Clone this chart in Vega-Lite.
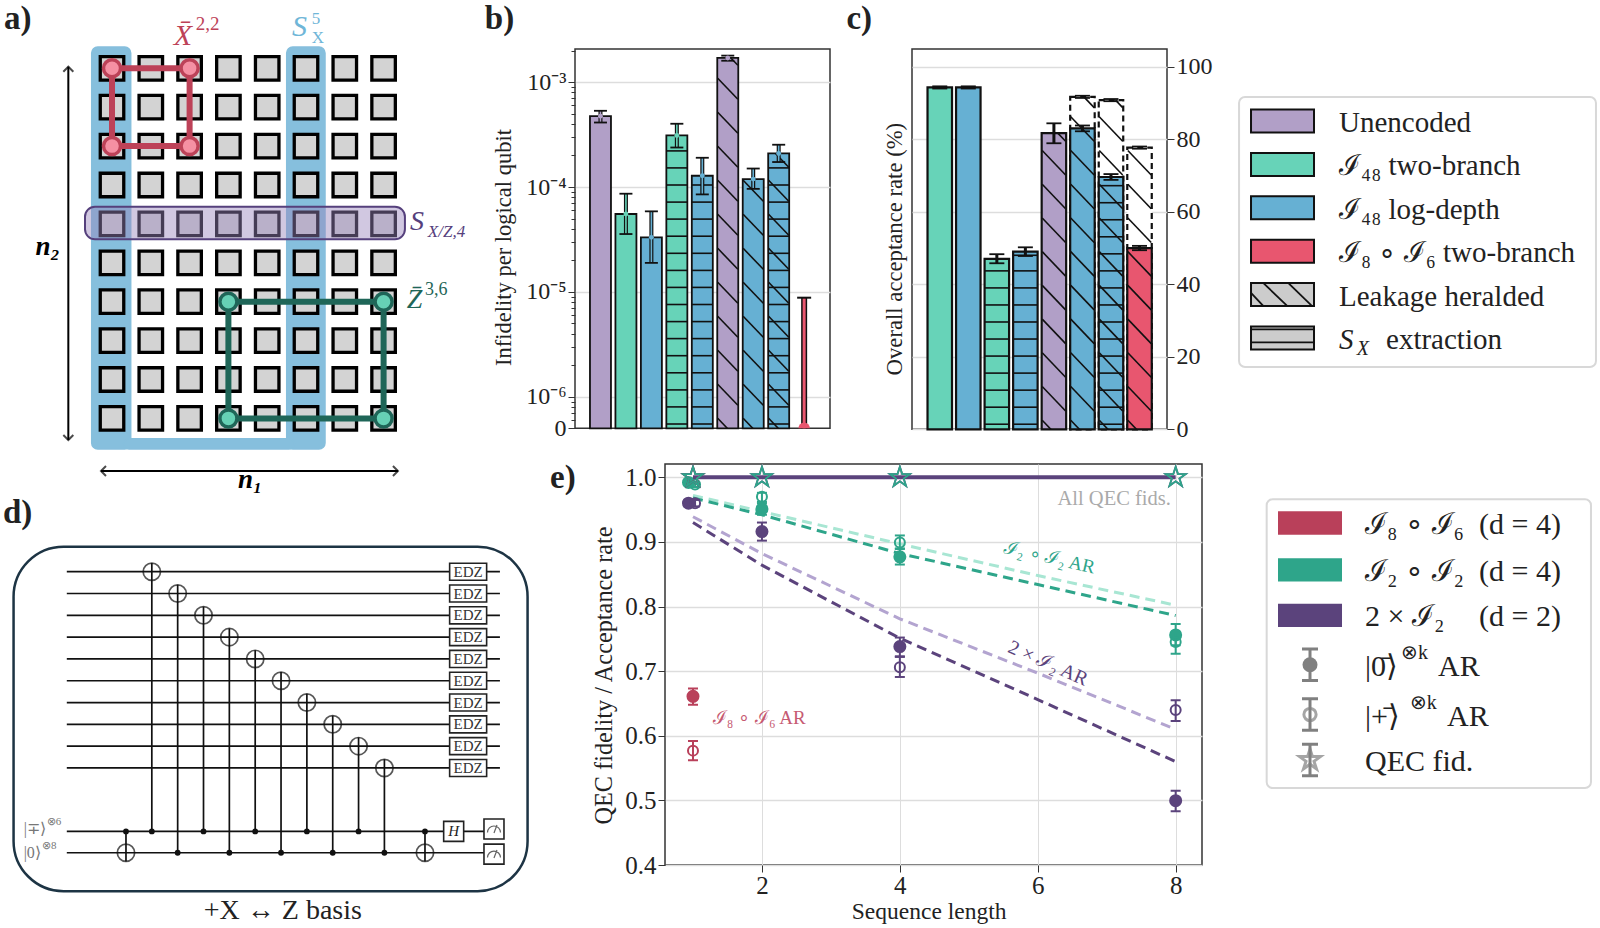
{"$schema":"https://vega.github.io/schema/vega-lite/v6.json","padding":0,"background":"white","bounds":"flush","spacing":0,
"config":{"view":{"stroke":null},"text":{"font":"Liberation Serif","color":"#222"},"axis":{"labelFont":"Liberation Serif","titleFont":"Liberation Serif","labelFontSize":24,"titleFontSize":22.5,"titleFontWeight":"normal","labelColor":"#222","titleColor":"#222","tickColor":"#333","gridColor":"#dddddd","gridWidth":1.5,"domain":false,"labelOverlap":false,"labelBound":false,"labelFlush":false}},
"datasets":{
"cells":[{"x":0,"y":0},{"x":1,"y":0},{"x":2,"y":0},{"x":3,"y":0},{"x":4,"y":0},{"x":5,"y":0},{"x":6,"y":0},{"x":7,"y":0},{"x":0,"y":1},{"x":1,"y":1},{"x":2,"y":1},{"x":3,"y":1},{"x":4,"y":1},{"x":5,"y":1},{"x":6,"y":1},{"x":7,"y":1},{"x":0,"y":2},{"x":1,"y":2},{"x":2,"y":2},{"x":3,"y":2},{"x":4,"y":2},{"x":5,"y":2},{"x":6,"y":2},{"x":7,"y":2},{"x":0,"y":3},{"x":1,"y":3},{"x":2,"y":3},{"x":3,"y":3},{"x":4,"y":3},{"x":5,"y":3},{"x":6,"y":3},{"x":7,"y":3},{"x":0,"y":4},{"x":1,"y":4},{"x":2,"y":4},{"x":3,"y":4},{"x":4,"y":4},{"x":5,"y":4},{"x":6,"y":4},{"x":7,"y":4},{"x":0,"y":5},{"x":1,"y":5},{"x":2,"y":5},{"x":3,"y":5},{"x":4,"y":5},{"x":5,"y":5},{"x":6,"y":5},{"x":7,"y":5},{"x":0,"y":6},{"x":1,"y":6},{"x":2,"y":6},{"x":3,"y":6},{"x":4,"y":6},{"x":5,"y":6},{"x":6,"y":6},{"x":7,"y":6},{"x":0,"y":7},{"x":1,"y":7},{"x":2,"y":7},{"x":3,"y":7},{"x":4,"y":7},{"x":5,"y":7},{"x":6,"y":7},{"x":7,"y":7},{"x":0,"y":8},{"x":1,"y":8},{"x":2,"y":8},{"x":3,"y":8},{"x":4,"y":8},{"x":5,"y":8},{"x":6,"y":8},{"x":7,"y":8},{"x":0,"y":9},{"x":1,"y":9},{"x":2,"y":9},{"x":3,"y":9},{"x":4,"y":9},{"x":5,"y":9},{"x":6,"y":9},{"x":7,"y":9}],
"bBars":[{"x":0,"v":4.74e-4,"f":"Unencoded"},{"x":1,"v":5.53e-5,"f":"Two"},{"x":2,"v":3.31e-5,"f":"Log"},{"x":3,"v":3.1e-4,"f":"Two"},{"x":4,"v":1.28e-4,"f":"Log"},{"x":5,"v":1.7e-3,"f":"Unencoded"},{"x":6,"v":1.19e-4,"f":"Log"},{"x":7,"v":2.09e-4,"f":"Log"}],
"bErr":[{"x":0,"v":4.74e-4,"lo":4.12e-4,"hi":5.33e-4,"f":"Unencoded"},{"x":1,"v":5.53e-5,"lo":3.56e-5,"hi":8.63e-5,"f":"Two"},{"x":2,"v":3.31e-5,"lo":1.89e-5,"hi":5.86e-5,"f":"Log"},{"x":3,"v":3.1e-4,"lo":2.38e-4,"hi":4.01e-4,"f":"Two"},{"x":4,"v":1.28e-4,"lo":8.5e-5,"hi":1.9e-4,"f":"Log"},{"x":5,"v":1.7e-3,"lo":1.6e-3,"hi":1.79e-3,"f":"Unencoded"},{"x":6,"v":1.19e-4,"lo":9.6e-5,"hi":1.5e-4,"f":"Log"},{"x":7,"v":2.09e-4,"lo":1.73e-4,"hi":2.53e-4,"f":"Log"}],
"bH":[{"x":3,"h":4.3},{"x":3,"h":21.4},{"x":3,"h":38.4},{"x":3,"h":55.5},{"x":3,"h":72.6},{"x":3,"h":89.7},{"x":3,"h":106.7},{"x":3,"h":123.8},{"x":3,"h":140.9},{"x":3,"h":157.9},{"x":3,"h":175},{"x":3,"h":192.1},{"x":3,"h":209.2},{"x":3,"h":226.2},{"x":3,"h":243.3},{"x":3,"h":260.4},{"x":3,"h":277.4},{"x":4,"h":4.3},{"x":4,"h":21.4},{"x":4,"h":38.4},{"x":4,"h":55.5},{"x":4,"h":72.6},{"x":4,"h":89.7},{"x":4,"h":106.7},{"x":4,"h":123.8},{"x":4,"h":140.9},{"x":4,"h":157.9},{"x":4,"h":175},{"x":4,"h":192.1},{"x":4,"h":209.2},{"x":4,"h":226.2},{"x":4,"h":243.3},{"x":7,"h":4.3},{"x":7,"h":21.4},{"x":7,"h":38.4},{"x":7,"h":55.5},{"x":7,"h":72.6},{"x":7,"h":89.7},{"x":7,"h":106.7},{"x":7,"h":123.8},{"x":7,"h":140.9},{"x":7,"h":157.9},{"x":7,"h":175},{"x":7,"h":192.1},{"x":7,"h":209.2},{"x":7,"h":226.2},{"x":7,"h":243.3},{"x":7,"h":260.4}],
"bD":[{"x":4.604,"x2":5.396,"h":10,"h2":-11},{"x":4.604,"x2":5.396,"h":44,"h2":23},{"x":4.604,"x2":5.396,"h":78,"h2":57},{"x":4.604,"x2":5.396,"h":112,"h2":91},{"x":4.604,"x2":5.396,"h":146,"h2":125},{"x":4.604,"x2":5.396,"h":180,"h2":159},{"x":4.604,"x2":5.396,"h":214,"h2":193},{"x":4.604,"x2":5.396,"h":248,"h2":227},{"x":4.604,"x2":5.396,"h":282,"h2":261},{"x":4.604,"x2":5.396,"h":316,"h2":295},{"x":4.604,"x2":5.396,"h":350,"h2":329},{"x":5.12,"x2":5.396,"h":370.3,"h2":363},{"x":5.604,"x2":6.396,"h":10,"h2":-11},{"x":5.604,"x2":6.396,"h":44,"h2":23},{"x":5.604,"x2":6.396,"h":78,"h2":57},{"x":5.604,"x2":6.396,"h":112,"h2":91},{"x":5.604,"x2":6.396,"h":146,"h2":125},{"x":5.604,"x2":6.396,"h":180,"h2":159},{"x":5.604,"x2":6.396,"h":214,"h2":193},{"x":5.604,"x2":6.396,"h":248,"h2":227},{"x":6.604,"x2":7.396,"h":10,"h2":-11},{"x":6.604,"x2":7.396,"h":44,"h2":23},{"x":6.604,"x2":7.396,"h":78,"h2":57},{"x":6.604,"x2":7.396,"h":112,"h2":91},{"x":6.604,"x2":7.396,"h":146,"h2":125},{"x":6.604,"x2":7.396,"h":180,"h2":159},{"x":6.604,"x2":7.396,"h":214,"h2":193},{"x":6.604,"x2":7.396,"h":248,"h2":227},{"x":6.883,"x2":7.396,"h":274.6,"h2":261}],
"cBars":[{"x":0,"v":94.3,"f":"Two"},{"x":1,"v":94.3,"f":"Log"},{"x":2,"v":47,"f":"Two"},{"x":3,"v":49,"f":"Log"},{"x":4,"v":81.7,"f":"Unencoded"},{"x":5,"v":83,"f":"Log"},{"x":6,"v":69.6,"f":"Log"},{"x":7,"v":50,"f":"Red"}],
"cTop":[{"x":5,"v":91.7},{"x":6,"v":90.8},{"x":7,"v":77.7}],
"cErr":[{"x":0,"lo":94,"hi":94.6},{"x":1,"lo":94,"hi":94.6},{"x":2,"lo":45.8,"hi":48.3},{"x":3,"lo":47.8,"hi":50.2},{"x":4,"lo":78.9,"hi":84.4},{"x":5,"lo":82.2,"hi":83.8},{"x":6,"lo":68.8,"hi":70.4},{"x":7,"lo":49.4,"hi":50.6},{"x":5,"lo":91.4,"hi":92},{"x":6,"lo":90.5,"hi":91.1},{"x":7,"lo":77.4,"hi":78}],
"cH":[{"x":2,"y":1.4},{"x":2,"y":6.1},{"x":2,"y":10.8},{"x":2,"y":15.5},{"x":2,"y":20.2},{"x":2,"y":24.9},{"x":2,"y":29.6},{"x":2,"y":34.3},{"x":2,"y":39},{"x":2,"y":43.7},{"x":3,"y":1.4},{"x":3,"y":6.1},{"x":3,"y":10.8},{"x":3,"y":15.5},{"x":3,"y":20.2},{"x":3,"y":24.9},{"x":3,"y":29.6},{"x":3,"y":34.3},{"x":3,"y":39},{"x":3,"y":43.7},{"x":3,"y":48.0},{"x":6,"y":1.4},{"x":6,"y":6.1},{"x":6,"y":10.8},{"x":6,"y":15.5},{"x":6,"y":20.2},{"x":6,"y":24.9},{"x":6,"y":29.6},{"x":6,"y":34.3},{"x":6,"y":39},{"x":6,"y":43.7},{"x":6,"y":48.4},{"x":6,"y":53.1},{"x":6,"y":57.8},{"x":6,"y":62.5},{"x":6,"y":67.2}],
"cD":[{"x":3.59,"x2":4.41,"y":2.5,"y2":-4.26},{"x":3.59,"x2":4.41,"y":11.8,"y2":5.04},{"x":3.59,"x2":4.41,"y":21.1,"y2":14.34},{"x":3.59,"x2":4.41,"y":30.4,"y2":23.64},{"x":3.59,"x2":4.41,"y":39.7,"y2":32.94},{"x":3.59,"x2":4.41,"y":49,"y2":42.24},{"x":3.59,"x2":4.41,"y":58.3,"y2":51.54},{"x":3.59,"x2":4.41,"y":67.6,"y2":60.84},{"x":3.59,"x2":4.41,"y":76.9,"y2":70.14},{"x":4.136,"x2":4.41,"y":81.7,"y2":79.44},{"x":4.59,"x2":5.41,"y":2.5,"y2":-4.26},{"x":4.59,"x2":5.41,"y":11.8,"y2":5.04},{"x":4.59,"x2":5.41,"y":21.1,"y2":14.34},{"x":4.59,"x2":5.41,"y":30.4,"y2":23.64},{"x":4.59,"x2":5.41,"y":39.7,"y2":32.94},{"x":4.59,"x2":5.41,"y":49,"y2":42.24},{"x":4.59,"x2":5.41,"y":58.3,"y2":51.54},{"x":4.59,"x2":5.41,"y":67.6,"y2":60.84},{"x":4.59,"x2":5.41,"y":76.9,"y2":70.14},{"x":4.59,"x2":5.41,"y":86.2,"y2":79.44},{"x":5.051,"x2":5.41,"y":91.7,"y2":88.74},{"x":5.59,"x2":6.41,"y":2.5,"y2":-4.26},{"x":5.59,"x2":6.41,"y":11.8,"y2":5.04},{"x":5.59,"x2":6.41,"y":21.1,"y2":14.34},{"x":5.59,"x2":6.41,"y":30.4,"y2":23.64},{"x":5.59,"x2":6.41,"y":39.7,"y2":32.94},{"x":5.59,"x2":6.41,"y":49,"y2":42.24},{"x":5.59,"x2":6.41,"y":58.3,"y2":51.54},{"x":5.59,"x2":6.41,"y":67.6,"y2":60.84},{"x":5.59,"x2":6.41,"y":76.9,"y2":70.14},{"x":5.59,"x2":6.41,"y":86.2,"y2":79.44},{"x":6.16,"x2":6.41,"y":90.8,"y2":88.74},{"x":6.59,"x2":7.41,"y":2.5,"y2":-4.26},{"x":6.59,"x2":7.41,"y":11.8,"y2":5.04},{"x":6.59,"x2":7.41,"y":21.1,"y2":14.34},{"x":6.59,"x2":7.41,"y":30.4,"y2":23.64},{"x":6.59,"x2":7.41,"y":39.7,"y2":32.94},{"x":6.59,"x2":7.41,"y":49,"y2":42.24},{"x":6.59,"x2":7.41,"y":58.3,"y2":51.54},{"x":6.59,"x2":7.41,"y":67.6,"y2":60.84},{"x":6.59,"x2":7.41,"y":76.9,"y2":70.14}],
"eFilled":[{"x":1,"y":0.661,"lo":0.648,"hi":0.673,"c":"I8"},{"x":0.935,"y":0.992,"lo":0.988,"hi":0.996,"c":"I2"},{"x":2,"y":0.951,"lo":0.942,"hi":0.96,"c":"I2"},{"x":4,"y":0.877,"lo":0.865,"hi":0.889,"c":"I2"},{"x":8,"y":0.756,"lo":0.74,"hi":0.773,"c":"I2"},{"x":0.935,"y":0.96,"lo":0.955,"hi":0.965,"c":"P"},{"x":2,"y":0.916,"lo":0.902,"hi":0.93,"c":"P"},{"x":4,"y":0.738,"lo":0.723,"hi":0.752,"c":"P"},{"x":8,"y":0.4995,"lo":0.483,"hi":0.515,"c":"P"}],
"eOpen":[{"x":1,"y":0.577,"lo":0.562,"hi":0.592,"c":"I8"},{"x":1.03,"y":0.989,"lo":0.985,"hi":0.993,"c":"I2"},{"x":2,"y":0.97,"lo":0.962,"hi":0.976,"c":"I2"},{"x":4,"y":0.899,"lo":0.89,"hi":0.91,"c":"I2"},{"x":8,"y":0.745,"lo":0.727,"hi":0.76,"c":"I2"},{"x":1.03,"y":0.96,"lo":0.955,"hi":0.965,"c":"P"},{"x":4,"y":0.706,"lo":0.691,"hi":0.722,"c":"P"},{"x":8,"y":0.64,"lo":0.623,"hi":0.655,"c":"P"}],
"eStars":[{"x":1,"y":1,"c":"I8"},{"x":1,"y":1,"c":"P"},{"x":2,"y":1,"c":"P"},{"x":4,"y":1,"c":"P"},{"x":8,"y":1,"c":"P"},{"x":1,"y":1,"c":"I2"},{"x":2,"y":1,"c":"I2"},{"x":4,"y":1,"c":"I2"},{"x":8,"y":1,"c":"I2"}],
"eLines":[{"x":1,"y":0.972,"c":"I2 light"},{"x":2,"y":0.947,"c":"I2 light"},{"x":4,"y":0.897,"c":"I2 light"},{"x":6,"y":0.848,"c":"I2 light"},{"x":8,"y":0.802,"c":"I2 light"},{"x":1,"y":0.968,"c":"I2"},{"x":2,"y":0.942,"c":"I2"},{"x":4,"y":0.882,"c":"I2"},{"x":6,"y":0.834,"c":"I2"},{"x":8,"y":0.786,"c":"I2"},{"x":1,"y":0.939,"c":"P light"},{"x":2,"y":0.882,"c":"P light"},{"x":4,"y":0.781,"c":"P light"},{"x":6,"y":0.697,"c":"P light"},{"x":8,"y":0.61,"c":"P light"},{"x":1,"y":0.93,"c":"P"},{"x":2,"y":0.864,"c":"P"},{"x":4,"y":0.751,"c":"P"},{"x":6,"y":0.656,"c":"P"},{"x":8,"y":0.56,"c":"P"}],
"dTargets":[{"x":1,"y":0,"c":11.91},{"x":2,"y":1,"c":12.89},{"x":3,"y":2,"c":11.91},{"x":4,"y":3,"c":12.89},{"x":5,"y":4,"c":11.91},{"x":6,"y":5,"c":12.89},{"x":7,"y":6,"c":11.91},{"x":8,"y":7,"c":12.89},{"x":9,"y":8,"c":11.91},{"x":10,"y":9,"c":12.89},{"x":0,"y":12.89,"c":11.91},{"x":11.57,"y":12.89,"c":11.91}],
"dEdz":[{"x":13.24,"y":0,"t":"EDZ"},{"x":13.24,"y":1,"t":"EDZ"},{"x":13.24,"y":2,"t":"EDZ"},{"x":13.24,"y":3,"t":"EDZ"},{"x":13.24,"y":4,"t":"EDZ"},{"x":13.24,"y":5,"t":"EDZ"},{"x":13.24,"y":6,"t":"EDZ"},{"x":13.24,"y":7,"t":"EDZ"},{"x":13.24,"y":8,"t":"EDZ"},{"x":13.24,"y":9,"t":"EDZ"}]
},
"vconcat":[
{"width":1600,"height":49,"data":{"values":[{"x":0.0025,"y":0.6,"t":"a)"},{"x":0.303,"y":0.6,"t":"b)"},{"x":0.529,"y":0.6,"t":"c)"}]},"mark":{"type":"text","align":"left","baseline":"alphabetic","fontSize":33,"fontWeight":"bold"},"encoding":{"x":{"field":"x","type":"quantitative","scale":{"domain":[0,1]},"axis":null},"y":{"field":"y","type":"quantitative","scale":{"domain":[1,0]},"axis":null},"text":{"field":"t"}}},
{"bounds":"flush","spacing":415,"vconcat":[
{"hconcat":[
{"width":493,"height":415,
"encoding":{"x":{"field":"x","type":"quantitative","scale":{"domain":[-2.887,9.82],"nice":false,"zero":false},"axis":null},"y":{"field":"y","type":"quantitative","scale":{"domain":[10.172,-0.496],"nice":false,"zero":false},"axis":null}},
"layer":[
{"data":{"values":[{"x":-0.523,"x2":0.482,"y":-0.548,"y2":9.787},{"x":4.503,"x2":5.49,"y":-0.548,"y2":9.787},{"x":0.3,"x2":4.7,"y":9.52,"y2":9.787}]},"mark":{"type":"rect","fill":"#86bfdd","stroke":"#86bfdd","strokeWidth":1.5,"cornerRadius":6},"encoding":{"x2":{"field":"x2"},"y2":{"field":"y2"}}},
{"data":{"name":"cells"},"mark":{"type":"point","shape":"square","filled":true,"fill":"#d3d3d3","fillOpacity":1,"stroke":"black","strokeOpacity":1,"strokeWidth":3.3,"size":552}},
{"data":{"values":[{"x":-0.696,"x2":7.55,"y":3.558,"y2":4.396}]},"mark":{"type":"rect","fill":"#9a85bd","fillOpacity":0.45,"stroke":"#55407c","strokeWidth":2,"cornerRadius":10},"encoding":{"x2":{"field":"x2"},"y2":{"field":"y2"}}},
{"data":{"values":[{"x":0,"y":0,"k":0},{"x":2,"y":0,"k":1},{"x":2,"y":2,"k":2},{"x":0,"y":2,"k":3},{"x":0,"y":0,"k":4}]},"mark":{"type":"line","color":"#bd4258","strokeWidth":6},"encoding":{"order":{"field":"k"}}},
{"data":{"values":[{"x":0,"y":0},{"x":2,"y":0},{"x":2,"y":2},{"x":0,"y":2}]},"mark":{"type":"point","shape":"circle","filled":true,"fill":"#f590a3","fillOpacity":1,"stroke":"#bd4258","strokeOpacity":1,"strokeWidth":3.5,"size":290}},
{"data":{"values":[{"x":3,"y":6,"k":0},{"x":7,"y":6,"k":1},{"x":7,"y":9,"k":2},{"x":3,"y":9,"k":3},{"x":3,"y":6,"k":4}]},"mark":{"type":"line","color":"#1f6658","strokeWidth":6},"encoding":{"order":{"field":"k"}}},
{"data":{"values":[{"x":3,"y":6},{"x":7,"y":6},{"x":7,"y":9},{"x":3,"y":9}]},"mark":{"type":"point","shape":"circle","filled":true,"fill":"#66d1b5","fillOpacity":1,"stroke":"#1f6658","strokeOpacity":1,"strokeWidth":3.5,"size":290}},
{"data":{"values":[{"x":-1.126,"y":-0.04,"y2":9.555}]},"mark":{"type":"rule","color":"black","strokeWidth":2},"encoding":{"y2":{"field":"y2"}}},
{"data":{"values":[{"x":-0.284,"x2":7.37,"y":10.35}]},"mark":{"type":"rule","color":"black","strokeWidth":2},"encoding":{"x2":{"field":"x2"}}},
{"data":{"values":[{"x":-1.126,"y":-0.04,"d":"up"},{"x":-1.126,"y":9.555,"d":"down"},{"x":-0.284,"y":10.35,"d":"left"},{"x":7.37,"y":10.35,"d":"right"}]},"mark":{"type":"point","filled":false,"stroke":"black","strokeOpacity":1,"strokeWidth":2,"size":100},"encoding":{"shape":{"field":"d","type":"nominal","legend":null,"scale":{"domain":["up","down","left","right"],"range":["M-1,1L0,0L1,1","M-1,-1L0,0L1,-1","M1,-1L0,0L1,1","M-1,-1L0,0L-1,1"]}}}},
{"data":{"values":[{"x":1.83,"y":-0.6,"t":"X̄"}]},"mark":{"type":"text","fontSize":30,"fontStyle":"italic","baseline":"alphabetic","color":"#bd4258"},"encoding":{"text":{"field":"t"}}},
{"data":{"values":[{"x":2.16,"y":-0.985,"t":"2,2"}]},"mark":{"type":"text","fontSize":19,"align":"left","baseline":"alphabetic","color":"#bd4258"},"encoding":{"text":{"field":"t"}}},
{"data":{"values":[{"x":4.64,"y":-0.83,"t":"S"}]},"mark":{"type":"text","fontSize":30,"fontStyle":"italic","align":"left","baseline":"alphabetic","color":"#6fb6d8"},"encoding":{"text":{"field":"t"}}},
{"data":{"values":[{"x":5.15,"y":-1.15,"t":"5"},{"x":5.15,"y":-0.64,"t":"X"}]},"mark":{"type":"text","fontSize":17,"align":"left","baseline":"alphabetic","color":"#6fb6d8"},"encoding":{"text":{"field":"t"}}},
{"data":{"values":[{"x":7.68,"y":4.16,"t":"S"}]},"mark":{"type":"text","fontSize":28,"fontStyle":"italic","align":"left","baseline":"alphabetic","color":"#55407c"},"encoding":{"text":{"field":"t"}}},
{"data":{"values":[{"x":8.14,"y":4.34,"t":"X/Z,4"}]},"mark":{"type":"text","fontSize":17,"fontStyle":"italic","align":"left","baseline":"alphabetic","color":"#55407c"},"encoding":{"text":{"field":"t"}}},
{"data":{"values":[{"x":7.6,"y":6.16,"t":"Z̄"}]},"mark":{"type":"text","fontSize":28,"fontStyle":"italic","align":"left","baseline":"alphabetic","color":"#1f6658"},"encoding":{"text":{"field":"t"}}},
{"data":{"values":[{"x":8.07,"y":5.83,"t":"3,6"}]},"mark":{"type":"text","fontSize":18,"align":"left","baseline":"alphabetic","color":"#1f6658"},"encoding":{"text":{"field":"t"}}},
{"data":{"values":[{"x":-1.66,"y":4.8,"t":"n₂"},{"x":3.56,"y":10.79,"t":"n₁"}]},"mark":{"type":"text","fontSize":27,"fontStyle":"italic","fontWeight":"bold","baseline":"alphabetic","color":"black"},"encoding":{"text":{"field":"t"}}}
]},
{"width":255,"height":379.3,"view":{"stroke":"#333","strokeWidth":1.5},"resolve":{"scale":{"y":"independent"}},
"encoding":{"x":{"field":"x","type":"quantitative","scale":{"domain":[-0.804,8.819],"nice":false,"zero":false},"axis":null}},
"layer":[
{"data":{"name":"bBars"},"mark":{"type":"bar","size":21,"stroke":"#111","strokeWidth":1.8},"encoding":{"y":{"field":"v","type":"quantitative","scale":{"type":"log","domain":[5e-7,2.07e-3],"nice":false},"axis":{"title":"Infidelity per logical qubit","titleX":-60,"titleY":198,"grid":true,"gridOpacity":{"condition":{"test":"datum.value==1e-3||datum.value==1e-4||datum.value==1e-5||datum.value==1e-6","value":1},"value":0},"tickSize":{"condition":{"test":"datum.value==1e-3||datum.value==1e-4||datum.value==1e-5||datum.value==1e-6||datum.value==5e-7","value":7},"value":4},"values":[5e-7,6e-7,7e-7,8e-7,9e-7,1e-6,2e-6,3e-6,4e-6,5e-6,6e-6,7e-6,8e-6,9e-6,1e-5,2e-5,3e-5,4e-5,5e-5,6e-5,7e-5,8e-5,9e-5,1e-4,2e-4,3e-4,4e-4,5e-4,6e-4,7e-4,8e-4,9e-4,1e-3,2e-3],"labelExpr":"datum.value==5e-7?'0':datum.value==1e-6?'10⁻⁶':datum.value==1e-5?'10⁻⁵':datum.value==1e-4?'10⁻⁴':datum.value==1e-3?'10⁻³':''"}},"y2":{"datum":5e-7},"color":{"field":"f","type":"nominal","legend":null,"scale":{"domain":["Unencoded","Two","Log","Red","Hatch","I8","I2","P","I2 light","P light"],"range":["#b19fc7","#67d3b8","#66b0d3","#e8566f","#cccccc","#b9405a","#2ea58a","#5b437c","#a8e6d3","#b3a4d0"]}}}},
{"data":{"name":"bH"},"mark":{"type":"tick","orient":"horizontal","size":21,"thickness":1.6,"color":"#111","opacity":1},"encoding":{"y":{"field":"h","type":"quantitative","scale":{"domain":[0,379.3],"nice":false},"axis":null}}},
{"data":{"name":"bD"},"mark":{"type":"rule","color":"#111","strokeWidth":1.6,"clip":true},"encoding":{"x2":{"field":"x2"},"y":{"field":"h","type":"quantitative","scale":{"domain":[0,379.3],"nice":false},"axis":null},"y2":{"field":"h2"}}},
{"data":{"name":"bErr"},"mark":{"type":"rule","color":"#111","strokeWidth":4},"encoding":{"y":{"field":"lo","type":"quantitative","scale":{"type":"log","domain":[5e-7,2.07e-3],"nice":false},"axis":null},"y2":{"field":"hi"}}},
{"data":{"name":"bErr"},"mark":{"type":"rule","strokeWidth":1.6},"encoding":{"y":{"field":"lo","type":"quantitative","scale":{"type":"log","domain":[5e-7,2.07e-3],"nice":false},"axis":null},"y2":{"field":"hi"},"color":{"field":"f","type":"nominal","legend":null}}},
{"data":{"name":"bErr"},"mark":{"type":"tick","orient":"horizontal","size":13,"thickness":1.8,"color":"#111","opacity":1},"encoding":{"y":{"field":"hi","type":"quantitative","scale":{"type":"log","domain":[5e-7,2.07e-3],"nice":false},"axis":null}}},
{"data":{"name":"bErr"},"mark":{"type":"tick","orient":"horizontal","size":13,"thickness":1.8,"color":"#111","opacity":1},"encoding":{"y":{"field":"lo","type":"quantitative","scale":{"type":"log","domain":[5e-7,2.07e-3],"nice":false},"axis":null}}},
{"data":{"name":"bErr"},"mark":{"type":"point","filled":true,"size":24,"opacity":1},"encoding":{"y":{"field":"v","type":"quantitative","scale":{"type":"log","domain":[5e-7,2.07e-3],"nice":false},"axis":null},"color":{"field":"f","type":"nominal","legend":null}}},
{"data":{"values":[{"x":8,"lo":5e-7,"hi":8.8e-6}]},"mark":{"type":"rule","color":"#111","strokeWidth":6},"encoding":{"y":{"field":"lo","type":"quantitative","scale":{"type":"log","domain":[5e-7,2.07e-3],"nice":false},"axis":null},"y2":{"field":"hi"}}},
{"data":{"values":[{"x":8,"lo":5e-7,"hi":8.8e-6}]},"mark":{"type":"rule","color":"#e8566f","strokeWidth":3},"encoding":{"y":{"field":"lo","type":"quantitative","scale":{"type":"log","domain":[5e-7,2.07e-3],"nice":false},"axis":null},"y2":{"field":"hi"}}},
{"data":{"values":[{"x":8,"hi":8.8e-6}]},"mark":{"type":"tick","orient":"horizontal","size":14,"thickness":2,"color":"#111","opacity":1},"encoding":{"y":{"field":"hi","type":"quantitative","scale":{"type":"log","domain":[5e-7,2.07e-3],"nice":false},"axis":null}}},
{"data":{"values":[{"x":8,"v":5e-7}]},"mark":{"type":"point","filled":true,"size":130,"color":"#e8566f","opacity":1,"clip":true},"encoding":{"y":{"field":"v","type":"quantitative","scale":{"type":"log","domain":[5e-7,2.07e-3],"nice":false},"axis":null}}}
]},
{"width":255,"height":380.3,"view":{"stroke":"#333","strokeWidth":1.5},
"encoding":{"x":{"field":"x","type":"quantitative","scale":{"domain":[-0.798,7.788],"nice":false,"zero":false},"axis":null}},
"layer":[
{"data":{"name":"cTop"},"mark":{"type":"bar","size":24.5,"fill":"white","stroke":"#111","strokeWidth":2.2,"strokeDash":[6,4]},"encoding":{"y":{"field":"v","type":"quantitative","scale":{"domain":[0,104.9],"nice":false},"axis":{"title":null,"orient":"right","grid":true,"values":[0,20,40,60,80,100],"tickSize":7}}}},
{"data":{"name":"cBars"},"mark":{"type":"bar","size":24.5,"stroke":"#111","strokeWidth":2.2},"encoding":{"y":{"field":"v","type":"quantitative"},"color":{"field":"f","type":"nominal","legend":null,"scale":{"domain":["Unencoded","Two","Log","Red","Hatch","I8","I2","P","I2 light","P light"],"range":["#b19fc7","#67d3b8","#66b0d3","#e8566f","#cccccc","#b9405a","#2ea58a","#5b437c","#a8e6d3","#b3a4d0"]}}}},
{"data":{"name":"cH"},"mark":{"type":"tick","orient":"horizontal","size":24.5,"thickness":1.6,"color":"#111","opacity":1},"encoding":{"y":{"field":"y","type":"quantitative"}}},
{"data":{"name":"cD"},"mark":{"type":"rule","color":"#111","strokeWidth":1.6,"clip":true},"encoding":{"x2":{"field":"x2"},"y":{"field":"y","type":"quantitative"},"y2":{"field":"y2"}}},
{"data":{"name":"cErr"},"mark":{"type":"rule","color":"#111","strokeWidth":3},"encoding":{"y":{"field":"lo","type":"quantitative"},"y2":{"field":"hi"}}},
{"data":{"name":"cErr"},"mark":{"type":"tick","orient":"horizontal","size":15,"thickness":1.8,"color":"#111","opacity":1},"encoding":{"y":{"field":"hi","type":"quantitative"}}},
{"data":{"name":"cErr"},"mark":{"type":"tick","orient":"horizontal","size":15,"thickness":1.8,"color":"#111","opacity":1},"encoding":{"y":{"field":"lo","type":"quantitative"}}},
{"data":{"values":[{"x":-1.57,"y":49.7,"t":"Overall acceptance rate (%)"}]},"mark":{"type":"text","angle":270,"fontSize":22.7},"encoding":{"y":{"field":"y","type":"quantitative"},"text":{"field":"t"}}}
]},
{"width":351,"height":415,
"encoding":{"x":{"field":"x","type":"quantitative","scale":{"domain":[-0.032,5.54],"nice":false,"zero":false},"axis":null},"y":{"field":"y","type":"quantitative","scale":{"domain":[7.903,-1.659],"nice":false,"zero":false},"axis":null}},
"layer":[
{"data":{"values":[{"x":-0.19,"x2":5.476,"y":-0.553,"y2":5.668}]},"mark":{"type":"rect","fill":"white","stroke":"#d8d8d8","strokeWidth":2,"cornerRadius":6},"encoding":{"x2":{"field":"x2"},"y2":{"field":"y2"}}},
{"data":{"values":[{"x":0,"x2":1,"y":-0.265,"y2":0.265,"f":"Unencoded"},{"x":0,"x2":1,"y":0.735,"y2":1.265,"f":"Two"},{"x":0,"x2":1,"y":1.735,"y2":2.265,"f":"Log"},{"x":0,"x2":1,"y":2.735,"y2":3.265,"f":"Red"},{"x":0,"x2":1,"y":3.735,"y2":4.265,"f":"Hatch"},{"x":0,"x2":1,"y":4.735,"y2":5.265,"f":"Hatch"}]},"mark":{"type":"rect","stroke":"#111","strokeWidth":2},"encoding":{"x2":{"field":"x2"},"y2":{"field":"y2"},"color":{"field":"f","type":"nominal","legend":null,"scale":{"domain":["Unencoded","Two","Log","Red","Hatch","I8","I2","P","I2 light","P light"],"range":["#b19fc7","#67d3b8","#66b0d3","#e8566f","#cccccc","#b9405a","#2ea58a","#5b437c","#a8e6d3","#b3a4d0"]}}}},
{"data":{"values":[{"x":0,"x2":0.197,"y":3.96,"y2":4.265},{"x":0.197,"x2":0.578,"y":3.735,"y2":4.265},{"x":0.594,"x2":0.97,"y":3.735,"y2":4.265}]},"mark":{"type":"rule","color":"#111","strokeWidth":1.8},"encoding":{"x2":{"field":"x2"},"y2":{"field":"y2"}}},
{"data":{"values":[{"x":0,"x2":1,"y":4.8},{"x":0,"x2":1,"y":5.1}]},"mark":{"type":"rule","color":"#111","strokeWidth":1.8},"encoding":{"x2":{"field":"x2"}}},
{"data":{"values":[{"x":1.397,"y":0,"t":"Unencoded"},{"x":1.397,"y":1,"t":"ℐ₄₈ two-branch"},{"x":1.397,"y":2,"t":"ℐ₄₈ log-depth"},{"x":1.397,"y":3,"t":"ℐ₈ ∘ ℐ₆ two-branch"},{"x":1.397,"y":4,"t":"Leakage heralded"},{"x":2.143,"y":5,"t":"extraction"}]},"mark":{"type":"text","align":"left","baseline":"middle","fontSize":29,"dy":2},"encoding":{"text":{"field":"t"}}},
{"data":{"values":[{"x":1.397,"y":5,"t":"S"}]},"mark":{"type":"text","align":"left","baseline":"middle","fontSize":29,"fontStyle":"italic","dy":2},"encoding":{"text":{"field":"t"}}},
{"data":{"values":[{"x":1.677,"y":5.2,"t":"X"}]},"mark":{"type":"text","align":"left","baseline":"middle","fontSize":20,"fontStyle":"italic","dy":2},"encoding":{"text":{"field":"t"}}}
]}
],"spacing":82,"bounds":"flush"},
{"hconcat":[
{"width":625,"height":464,
"encoding":{"x":{"field":"x","type":"quantitative","scale":{"domain":[-4.875,19.31],"nice":false,"zero":false},"axis":null},"y":{"field":"y","type":"quantitative","scale":{"domain":[16.34,-4.94],"nice":false,"zero":false},"axis":null}},
"layer":[
{"data":{"values":[{"x":-4.35,"x2":15.54,"y":-1.15,"y2":14.65}]},"mark":{"type":"rect","fill":"white","stroke":"#1d3444","strokeWidth":2.5,"cornerRadius":50},"encoding":{"x2":{"field":"x2"},"y2":{"field":"y2"}}},
{"data":{"values":[{"x":-2.29,"x2":14.47,"y":0},{"x":-2.29,"x2":14.47,"y":1},{"x":-2.29,"x2":14.47,"y":2},{"x":-2.29,"x2":14.47,"y":3},{"x":-2.29,"x2":14.47,"y":4},{"x":-2.29,"x2":14.47,"y":5},{"x":-2.29,"x2":14.47,"y":6},{"x":-2.29,"x2":14.47,"y":7},{"x":-2.29,"x2":14.47,"y":8},{"x":-2.29,"x2":14.47,"y":9},{"x":-2.29,"x2":14.24,"y":11.91},{"x":-2.29,"x2":14.24,"y":12.89}]},"mark":{"type":"rule","color":"#111","strokeWidth":1.7},"encoding":{"x2":{"field":"x2"}}},
{"data":{"values":[{"x":1,"y":-0.4,"y2":11.91},{"x":2,"y":0.6,"y2":12.89},{"x":3,"y":1.6,"y2":11.91},{"x":4,"y":2.6,"y2":12.89},{"x":5,"y":3.6,"y2":11.91},{"x":6,"y":4.6,"y2":12.89},{"x":7,"y":5.6,"y2":11.91},{"x":8,"y":6.6,"y2":12.89},{"x":9,"y":7.6,"y2":11.91},{"x":10,"y":8.6,"y2":12.89},{"x":0,"y":11.91,"y2":13.29},{"x":11.57,"y":11.91,"y2":13.29}]},"mark":{"type":"rule","color":"#111","strokeWidth":1.7},"encoding":{"y2":{"field":"y2"}}},
{"data":{"name":"dTargets"},"mark":{"type":"point","shape":"circle","filled":false,"stroke":"#111","strokeOpacity":1,"strokeWidth":1.7,"size":300}},
{"data":{"name":"dTargets"},"mark":{"type":"point","shape":"circle","filled":true,"fill":"#111","fillOpacity":1,"strokeOpacity":0,"size":34},"encoding":{"y":{"field":"c","type":"quantitative"}}},
{"data":{"name":"dEdz"},"mark":{"type":"point","shape":"M-1,-0.46H1V0.46H-1Z","filled":true,"fill":"white","fillOpacity":1,"stroke":"#222","strokeOpacity":1,"strokeWidth":1.6,"size":1369}},
{"data":{"name":"dEdz"},"mark":{"type":"text","fontSize":15,"baseline":"middle","color":"#333"},"encoding":{"text":{"field":"t"}}},
{"data":{"values":[{"x":12.68,"y":11.91}]},"mark":{"type":"point","shape":"square","filled":true,"fill":"white","fillOpacity":1,"stroke":"#222","strokeOpacity":1,"strokeWidth":1.6,"size":400}},
{"data":{"values":[{"x":12.68,"y":11.91,"t":"H"}]},"mark":{"type":"text","fontSize":15,"fontStyle":"italic","baseline":"middle"},"encoding":{"text":{"field":"t"}}},
{"data":{"values":[{"x":14.24,"y":11.8},{"x":14.24,"y":12.95}]},"mark":{"type":"point","shape":"square","filled":true,"fill":"white","fillOpacity":1,"stroke":"#222","strokeOpacity":1,"strokeWidth":1.6,"size":400}},
{"data":{"values":[{"x":14.24,"y":11.8},{"x":14.24,"y":12.95}]},"mark":{"type":"point","shape":"M-0.65,0.35A0.65,0.65 0 0 1 0.65,0.35M0,0.4L0.3,-0.4","filled":false,"stroke":"#222","strokeOpacity":1,"strokeWidth":1.2,"size":400}},
{"data":{"values":[{"x":-3.96,"y":11.8,"t":"|∓⟩"},{"x":-3.96,"y":12.9,"t":"|0⟩"}]},"mark":{"type":"text","align":"left","baseline":"middle","fontSize":16,"color":"#777"},"encoding":{"text":{"field":"t"}}},
{"data":{"values":[{"x":-3.07,"y":11.5,"t":"⊗6"},{"x":-3.25,"y":12.6,"t":"⊗8"}]},"mark":{"type":"text","align":"left","baseline":"middle","fontSize":11,"color":"#777"},"encoding":{"text":{"field":"t"}}},
{"data":{"values":[{"x":6.07,"y":15.95,"t":"+X ↔ Z basis"}]},"mark":{"type":"text","fontSize":28,"baseline":"alphabetic"},"encoding":{"text":{"field":"t"}}},
{"data":{"values":[{"x":-4.76,"y":-2.23,"t":"d)"}]},"mark":{"type":"text","align":"left","baseline":"alphabetic","fontSize":33,"fontWeight":"bold"},"encoding":{"text":{"field":"t"}}}
]},
{"width":537,"height":401,"view":{"stroke":"#333","strokeWidth":1.5},
"encoding":{"x":{"field":"x","type":"quantitative","scale":{"domain":[0.594,8.382],"nice":false,"zero":false},"axis":{"title":"Sequence length","values":[2,4,6,8],"grid":true,"tickSize":7,"titlePadding":1,"labelPadding":1,"gridWidth":1,"titleFontSize":23.5,"labelFontSize":25,"titleX":263.6}},"y":{"field":"y","type":"quantitative","scale":{"domain":[0.4,1.0206],"nice":false,"zero":false},"axis":{"title":"QEC fidelity / Acceptance rate","values":[0.4,0.5,0.6,0.7,0.8,0.9,1.0],"format":".1f","grid":true,"tickSize":7,"titleX":-49,"titleY":211,"titleFontSize":24.3,"labelFontSize":25}},"color":{"field":"c","type":"nominal","legend":null,"scale":{"domain":["Unencoded","Two","Log","Red","Hatch","I8","I2","P","I2 light","P light"],"range":["#b19fc7","#67d3b8","#66b0d3","#e8566f","#cccccc","#b9405a","#2ea58a","#5b437c","#a8e6d3","#b3a4d0"]}}},
"layer":[
{"data":{"name":"eLines"},"mark":{"type":"line","strokeWidth":3,"strokeDash":[10,6]}},
{"data":{"name":"eFilled"},"mark":{"type":"rule","strokeWidth":2},"encoding":{"y":{"field":"lo","type":"quantitative"},"y2":{"field":"hi"}}},
{"data":{"name":"eFilled"},"mark":{"type":"tick","orient":"horizontal","size":10,"thickness":2,"opacity":1},"encoding":{"y":{"field":"lo","type":"quantitative"}}},
{"data":{"name":"eFilled"},"mark":{"type":"tick","orient":"horizontal","size":10,"thickness":2,"opacity":1},"encoding":{"y":{"field":"hi","type":"quantitative"}}},
{"data":{"name":"eFilled"},"mark":{"type":"point","shape":"circle","filled":true,"size":170,"opacity":1}},
{"data":{"name":"eOpen"},"mark":{"type":"rule","strokeWidth":2},"encoding":{"y":{"field":"lo","type":"quantitative"},"y2":{"field":"hi"}}},
{"data":{"name":"eOpen"},"mark":{"type":"tick","orient":"horizontal","size":10,"thickness":2,"opacity":1},"encoding":{"y":{"field":"lo","type":"quantitative"}}},
{"data":{"name":"eOpen"},"mark":{"type":"tick","orient":"horizontal","size":10,"thickness":2,"opacity":1},"encoding":{"y":{"field":"hi","type":"quantitative"}}},
{"data":{"name":"eOpen"},"mark":{"type":"point","shape":"circle","filled":false,"size":100,"strokeWidth":2,"opacity":1}},
{"data":{"values":[{"x":1,"x2":8,"y":1}]},"mark":{"type":"rule","color":"#5b437c","strokeWidth":4},"encoding":{"x2":{"field":"x2"},"color":{"value":"#5b437c"}}},
{"data":{"name":"eStars"},"mark":{"type":"point","shape":"M0,-1L0.2245,-0.309L0.951,-0.309L0.363,0.118L0.588,0.809L0,0.382L-0.588,0.809L-0.363,0.118L-0.951,-0.309L-0.2245,-0.309Z","filled":false,"size":441,"strokeWidth":1.8,"opacity":1}},
{"data":{"values":[{"x":7.93,"y":0.966,"t":"All QEC fids."}]},"mark":{"type":"text","align":"right","baseline":"middle","fontSize":20.5},"encoding":{"text":{"field":"t"},"color":{"value":"#aaaaaa"}}},
{"data":{"values":[{"x":6.17,"y":0.876,"t":"ℐ₂ ∘ ℐ₂ AR"}]},"mark":{"type":"text","angle":12.8,"baseline":"middle","fontSize":19},"encoding":{"text":{"field":"t"},"color":{"value":"#2ea58a"}}},
{"data":{"values":[{"x":6.15,"y":0.712,"t":"2 × ℐ₂ AR"}]},"mark":{"type":"text","angle":23.8,"baseline":"middle","fontSize":20},"encoding":{"text":{"field":"t"},"color":{"value":"#5b437c"}}},
{"data":{"values":[{"x":1.96,"y":0.627,"t":"ℐ₈ ∘ ℐ₆ AR"}]},"mark":{"type":"text","baseline":"middle","fontSize":19},"encoding":{"text":{"field":"t"},"color":{"value":"#c65a72"}}},
{"data":{"values":[{"x":-1.074,"y":0.983,"t":"e)"}]},"mark":{"type":"text","align":"left","baseline":"alphabetic","fontSize":33,"fontWeight":"bold"},"encoding":{"text":{"field":"t"},"color":{"value":"#222"}}}
]},
{"width":358,"height":464,
"encoding":{"x":{"field":"x","type":"quantitative","scale":{"domain":[-0.5625,5.031],"nice":false,"zero":false},"axis":null},"y":{"field":"y","type":"quantitative","scale":{"domain":[8.544,-1.245],"nice":false,"zero":false},"axis":null}},
"layer":[
{"data":{"values":[{"x":-0.177,"x2":4.89,"y":-0.5,"y2":5.59}]},"mark":{"type":"rect","fill":"white","stroke":"#d8d8d8","strokeWidth":2,"cornerRadius":6},"encoding":{"x2":{"field":"x2"},"y2":{"field":"y2"}}},
{"data":{"values":[{"x":0,"x2":1,"y":-0.246,"y2":0.246,"f":"I8"},{"x":0,"x2":1,"y":0.744,"y2":1.236,"f":"I2"},{"x":0,"x2":1,"y":1.704,"y2":2.196,"f":"P"}]},"mark":{"type":"rect"},"encoding":{"x2":{"field":"x2"},"y2":{"field":"y2"},"color":{"field":"f","type":"nominal","legend":null,"scale":{"domain":["Unencoded","Two","Log","Red","Hatch","I8","I2","P","I2 light","P light"],"range":["#b19fc7","#67d3b8","#66b0d3","#e8566f","#cccccc","#b9405a","#2ea58a","#5b437c","#a8e6d3","#b3a4d0"]}}}},
{"data":{"values":[{"x":0.5,"y":2.66,"y2":3.32},{"x":0.5,"y":3.71,"y2":4.37},{"x":0.5,"y":4.67,"y2":5.33}]},"mark":{"type":"rule","color":"#808080","strokeWidth":3},"encoding":{"y2":{"field":"y2"}}},
{"data":{"values":[{"x":0.5,"y":2.66},{"x":0.5,"y":3.32},{"x":0.5,"y":3.71},{"x":0.5,"y":4.37},{"x":0.5,"y":4.67},{"x":0.5,"y":5.33}]},"mark":{"type":"tick","orient":"horizontal","size":16,"thickness":3,"color":"#808080","opacity":1}},
{"data":{"values":[{"x":0.5,"y":2.99}]},"mark":{"type":"point","shape":"circle","filled":true,"fill":"#808080","fillOpacity":1,"strokeOpacity":0,"size":225}},
{"data":{"values":[{"x":0.5,"y":4.04}]},"mark":{"type":"point","shape":"circle","filled":false,"stroke":"#808080","strokeOpacity":1,"strokeWidth":3,"size":150}},
{"data":{"values":[{"x":0.5,"y":5}]},"mark":{"type":"point","shape":"M0,-1L0.2245,-0.309L0.951,-0.309L0.363,0.118L0.588,0.809L0,0.382L-0.588,0.809L-0.363,0.118L-0.951,-0.309L-0.2245,-0.309Z","filled":false,"stroke":"#808080","strokeOpacity":1,"strokeWidth":3,"size":484}},
{"data":{"values":[{"x":1.36,"y":0,"t":"ℐ₈ ∘ ℐ₆"},{"x":1.36,"y":0.99,"t":"ℐ₂ ∘ ℐ₂"},{"x":1.36,"y":1.95,"t":"2 × ℐ₂"},{"x":3.14,"y":0,"t":"(d = 4)"},{"x":3.14,"y":0.99,"t":"(d = 4)"},{"x":3.14,"y":1.95,"t":"(d = 2)"},{"x":1.36,"y":2.99,"t":"|0̄⟩"},{"x":2.5,"y":2.99,"t":"AR"},{"x":1.36,"y":4.04,"t":"|+̄⟩"},{"x":2.64,"y":4.04,"t":"AR"},{"x":1.36,"y":5,"t":"QEC fid."}]},"mark":{"type":"text","align":"left","baseline":"middle","fontSize":30,"dy":2},"encoding":{"text":{"field":"t"}}},
{"data":{"values":[{"x":1.92,"y":2.74,"t":"⊗k"},{"x":2.06,"y":3.79,"t":"⊗k"}]},"mark":{"type":"text","align":"left","baseline":"middle","fontSize":20},"encoding":{"text":{"field":"t"}}}
]}
],"spacing":40,"bounds":"flush"}
]}
]}
